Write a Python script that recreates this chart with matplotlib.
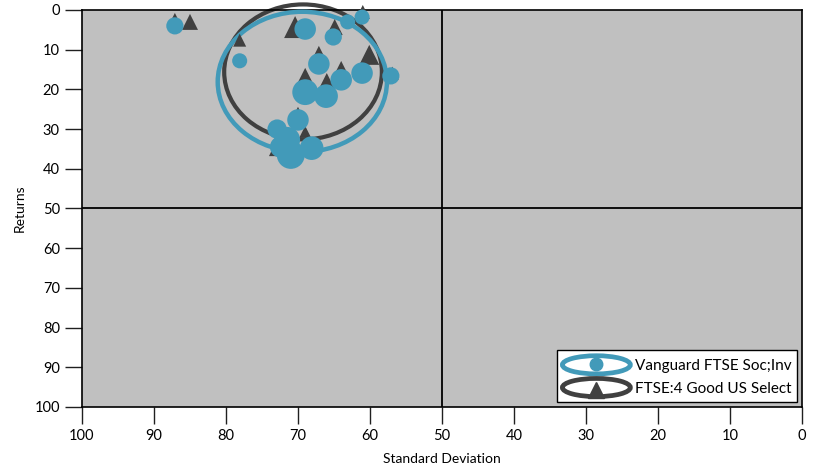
import matplotlib
matplotlib.use("Agg")
import matplotlib.pyplot as plt
import numpy as np
from matplotlib.patches import Ellipse
from matplotlib.lines import Line2D
from matplotlib.legend_handler import HandlerBase

plt.rcParams['font.family'] = ['Lato', 'DejaVu Sans']

# Vanguard FTSE Soc;Inv (circles)
van_sd = [87.1, 78.1, 69.0, 65.1, 63.1, 61.1, 67.1, 64.0, 61.1, 57.1,
          69.0, 66.1, 70.0, 72.9, 71.5, 71.0, 68.1, 72.4]
van_ret = [4.0, 12.8, 4.8, 6.8, 3.0, 1.8, 13.6, 17.6, 15.9, 16.6,
           20.7, 21.7, 27.7, 30.0, 32.7, 36.5, 34.8, 34.5]
van_w = [8, 7, 10, 8, 7, 7, 10, 10, 10, 8, 12, 11, 10, 9, 12, 13, 11, 10]

# FTSE:4 Good US Select (triangles)
ftse_sd = [87.1, 85.0, 78.1, 70.4, 64.9, 61.0, 60.1, 56.9, 67.1, 64.0,
           69.0, 66.0, 70.0, 69.0, 73.2]
ftse_ret = [2.5, 3.0, 7.6, 4.3, 4.3, 0.5, 11.3, 15.9, 11.3, 15.1,
            17.1, 18.4, 25.9, 30.7, 35.3]
ftse_w = [14, 16, 13, 22, 16, 14, 20, 13, 18, 18, 20, 20, 12, 12, 12]

# ellipses: center sd, center ret, width, height
van_ell = (69.4, 18.1, 23.5, 35.3)
ftse_ell = (69.3, 15.6, 21.9, 34.0)

xticks = [100, 90, 80, 70, 60, 50, 40, 30, 20, 10, 0]
yticks = [0, 10, 20, 30, 40, 50, 60, 70, 80, 90, 100]

BLUE = '#429ab9'
DARK = '#404040'


class EllipseHandler(HandlerBase):
    def create_artists(self, legend, orig_handle, xdescent, ydescent,
                       width, height, fontsize, trans):
        cx = -xdescent + width / 2
        cy = -ydescent + height / 2
        col = orig_handle.get_color()
        e = Ellipse((cx, cy), width, height, fill=False,
                    edgecolor=col, lw=3.4, transform=trans)
        m = orig_handle.get_marker()
        dy = -1.5 if m == '^' else 0.5
        mk = Line2D([cx], [cy + dy], marker=m, markersize=11 if m == '^' else 9,
                    color=col, linestyle='none', transform=trans)
        return [e, mk]


fig = plt.figure(figsize=(8.2, 4.71), dpi=100)
ax = fig.add_axes([0.1, 0.1359, 0.878, 0.8429])
ax.set_facecolor('#c0c0c0')

ax.set_xlim(100, 0)
ax.set_ylim(100, 0)

ax.axvline(50, color='black', lw=1.3, zorder=1)
ax.axhline(50, color='black', lw=1.3, zorder=1)

e2 = Ellipse((ftse_ell[0], ftse_ell[1]), ftse_ell[2], ftse_ell[3], fill=False,
             edgecolor=DARK, lw=3.0, clip_on=False, zorder=2)
e1 = Ellipse((van_ell[0], van_ell[1]), van_ell[2], van_ell[3], fill=False,
             edgecolor=BLUE, lw=3.2, clip_on=False, zorder=3)
ax.add_patch(e2)
ax.add_patch(e1)

ax.scatter(ftse_sd, ftse_ret, s=(np.array(ftse_w) * 0.72) ** 2, marker='^',
           color=DARK, linewidths=0, zorder=4, clip_on=False)
ax.scatter(van_sd, van_ret, s=(np.array(van_w) * 2.15 * 0.72) ** 2, marker='o',
           color=BLUE, linewidths=0, zorder=5, clip_on=False)

ax.set_xticks(xticks)
ax.set_yticks(yticks)
ax.tick_params(axis='both', length=12, width=1, color='#202020',
               labelsize=10.5, pad=4)
for s in ax.spines.values():
    s.set_color('black')
    s.set_linewidth(1.2)

ax.set_xlabel('Standard Deviation', fontsize=10, labelpad=7)
ax.set_ylabel('Returns', fontsize=10, labelpad=6)

h1 = Line2D([], [], color=BLUE, marker='o')
h2 = Line2D([], [], color=DARK, marker='^')
leg = ax.legend([h1, h2], ['Vanguard FTSE Soc;Inv', 'FTSE:4 Good US Select'],
                handler_map={h1: EllipseHandler(), h2: EllipseHandler()},
                loc='lower right', fontsize=11, handlelength=4.45,
                handleheight=1.45, handletextpad=0.3, labelspacing=0.3,
                borderpad=0.35, borderaxespad=0.33, fancybox=False,
                framealpha=1, edgecolor='black')
leg.get_frame().set_linewidth(1.0)

fig.savefig('out.png', dpi=100)
